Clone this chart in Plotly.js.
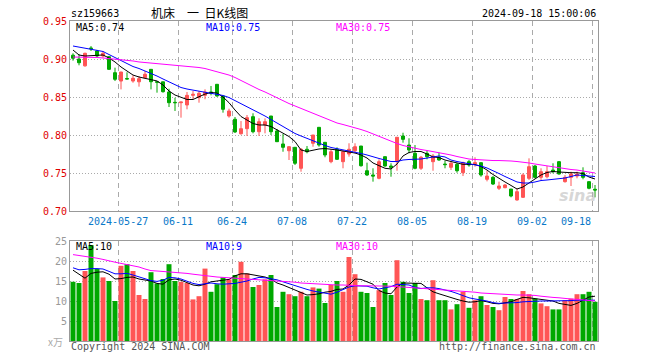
<!DOCTYPE html>
<html>
<head>
<meta charset="utf-8">
<script src="https://cdn.plot.ly/plotly-3.0.1.min.js"></script>
<style>html,body{margin:0;padding:0;background:#fff;}#chart{width:660px;height:360px;}</style>
</head>
<body>
<div id="chart"></div>
<script>
const dates = ['2024-05-15','2024-05-16','2024-05-17','2024-05-20','2024-05-21','2024-05-22','2024-05-23','2024-05-24','2024-05-27','2024-05-28',
'2024-05-29','2024-05-30','2024-05-31','2024-06-03','2024-06-04','2024-06-05','2024-06-06','2024-06-07','2024-06-11','2024-06-12',
'2024-06-13','2024-06-14','2024-06-17','2024-06-18','2024-06-19','2024-06-20','2024-06-21','2024-06-24','2024-06-25','2024-06-26',
'2024-06-27','2024-06-28','2024-07-01','2024-07-02','2024-07-03','2024-07-04','2024-07-05','2024-07-08','2024-07-09','2024-07-10',
'2024-07-11','2024-07-12','2024-07-15','2024-07-16','2024-07-17','2024-07-18','2024-07-19','2024-07-22','2024-07-23','2024-07-24',
'2024-07-25','2024-07-26','2024-07-29','2024-07-30','2024-07-31','2024-08-01','2024-08-02','2024-08-05','2024-08-06','2024-08-07',
'2024-08-08','2024-08-09','2024-08-12','2024-08-13','2024-08-14','2024-08-15','2024-08-16','2024-08-19','2024-08-20','2024-08-21',
'2024-08-22','2024-08-23','2024-08-26','2024-08-27','2024-08-28','2024-08-29','2024-08-30','2024-09-02','2024-09-03','2024-09-04',
'2024-09-05','2024-09-06','2024-09-09','2024-09-10','2024-09-11','2024-09-12','2024-09-13','2024-09-18'];

const openP = [0.905,0.900,0.891,0.9145,0.9105,0.904,0.903,0.882,0.871,0.8743,
0.871,0.870,0.8754,0.8864,0.870,0.870,0.8566,0.843,0.8425,0.8395,
0.8522,0.8491,0.8522,0.8566,0.8667,0.8513,0.825,0.8207,0.8017,0.8083,
0.8241,0.8043,0.8132,0.825,0.8053,0.7882,0.7793,0.7838,0.7562,0.7812,
0.7891,0.8101,0.7904,0.7649,0.7812,0.7649,0.775,0.7793,0.7855,0.753,
0.7474,0.743,0.7715,0.7592,0.7649,0.7987,0.7868,0.7759,0.7562,0.7759,
0.7649,0.7707,0.7618,0.7575,0.7614,0.7504,0.7649,0.7618,0.7636,0.7417,
0.7443,0.7299,0.7307,0.7289,0.7145,0.718,0.743,0.7592,0.7443,0.7451,
0.7539,0.7649,0.7386,0.7443,0.746,0.7504,0.7386,0.7286];

const highP = [0.9075,0.9062,0.9083,0.917,0.912,0.9105,0.904,0.8886,0.883,0.8825,
0.8786,0.8776,0.8842,0.8864,0.8701,0.8701,0.8609,0.849,0.8434,0.8566,
0.8579,0.8579,0.8601,0.8645,0.8671,0.8513,0.8346,0.8237,0.8184,0.8263,
0.8286,0.822,0.8219,0.825,0.8079,0.8013,0.7855,0.7838,0.7829,0.7855,
0.80,0.8101,0.7904,0.7812,0.7838,0.7803,0.7891,0.7891,0.7855,0.7636,
0.7562,0.768,0.7715,0.7628,0.7974,0.803,0.7957,0.7868,0.7724,0.7793,
0.775,0.7767,0.7662,0.7649,0.7632,0.7649,0.7671,0.7707,0.7636,0.753,
0.746,0.7386,0.7355,0.7289,0.7299,0.7496,0.7693,0.7605,0.7562,0.7592,
0.7628,0.7658,0.7474,0.7517,0.7517,0.7575,0.739,0.7342];

const lowP = [0.8978,0.8917,0.8899,0.9105,0.9026,0.9017,0.8855,0.871,0.860,0.8733,
0.8688,0.8636,0.8746,0.860,0.8557,0.8557,0.8368,0.8316,0.8228,0.8338,
0.847,0.8425,0.847,0.8522,0.8504,0.8294,0.8228,0.8026,0.8004,0.7987,
0.8022,0.7987,0.8022,0.80,0.7908,0.778,0.7671,0.7605,0.7517,0.7759,
0.7846,0.7846,0.7707,0.7628,0.7671,0.7562,0.7715,0.7759,0.7583,0.746,
0.7386,0.7417,0.7583,0.7451,0.753,0.7899,0.7759,0.7549,0.754,0.768,
0.753,0.7662,0.7562,0.754,0.7504,0.746,0.7583,0.7583,0.7451,0.739,
0.7342,0.7276,0.7299,0.718,0.7136,0.7171,0.7408,0.743,0.7408,0.743,
0.7496,0.7478,0.7373,0.7329,0.743,0.7417,0.7286,0.718];

const closeP = [0.901,0.8951,0.9075,0.9135,0.904,0.9075,0.8864,0.8733,0.8829,0.8737,
0.8746,0.8741,0.8799,0.8701,0.8695,0.857,0.8425,0.8425,0.8434,0.8522,
0.8535,0.8549,0.8566,0.8549,0.8513,0.8338,0.8316,0.804,0.8083,0.8228,
0.8043,0.8175,0.8175,0.8043,0.7912,0.7838,0.7846,0.7628,0.7812,0.778,
0.80,0.7868,0.7737,0.778,0.768,0.778,0.7812,0.7846,0.7596,0.7474,
0.746,0.7649,0.7592,0.7575,0.797,0.7943,0.7803,0.7562,0.7707,0.7715,
0.7724,0.7671,0.761,0.7628,0.753,0.7636,0.7605,0.7636,0.7474,0.746,
0.7355,0.7329,0.7342,0.7197,0.7254,0.7474,0.7583,0.7443,0.7517,0.7517,
0.7517,0.7487,0.7443,0.7487,0.7487,0.7443,0.7299,0.7276];

const ma5 = [0.9118,0.9053,0.9039,0.9046,0.9053,0.9053,0.9013,0.8961,0.8895,0.8842,
0.8789,0.8763,0.8743,0.873,0.8711,0.8658,0.8579,0.8526,0.8493,0.8467,
0.8467,0.85,0.8539,0.8559,0.8553,0.85,0.8425,0.8329,0.8243,0.8197,
0.8151,0.8132,0.8132,0.8112,0.8066,0.8026,0.798,0.7914,0.7803,0.7783,
0.7803,0.7816,0.7822,0.7816,0.7803,0.7789,0.7776,0.7763,0.7737,0.7697,
0.7632,0.7599,0.7562,0.7553,0.7618,0.7724,0.777,0.7783,0.7783,0.775,
0.7711,0.7704,0.7671,0.7651,0.7632,0.7614,0.7614,0.7612,0.7586,0.7539,
0.748,0.7428,0.7382,0.7336,0.7289,0.7316,0.7368,0.7421,0.7474,0.7507,
0.752,0.7513,0.7504,0.7504,0.7504,0.7493,0.7447,0.7421];

const ma10 = [0.9171,0.9158,0.9145,0.9132,0.9118,0.9099,0.9059,0.902,0.898,0.8934,
0.8901,0.8875,0.8842,0.8816,0.8776,0.8737,0.8697,0.8658,0.8625,0.8605,
0.8592,0.8579,0.8566,0.8553,0.8539,0.852,0.8493,0.8454,0.8414,0.8375,
0.8336,0.8296,0.825,0.8204,0.8158,0.8105,0.8059,0.802,0.7987,0.7954,
0.7928,0.7895,0.7862,0.7836,0.7822,0.7803,0.7789,0.7776,0.7757,0.7737,
0.7711,0.7691,0.7671,0.7651,0.7651,0.7671,0.7678,0.7678,0.7684,0.7697,
0.7711,0.7724,0.7711,0.7671,0.7651,0.7638,0.7625,0.7612,0.7592,0.7566,
0.7533,0.7493,0.7454,0.7414,0.7382,0.7368,0.7368,0.7382,0.7401,0.7408,
0.7414,0.7421,0.7434,0.7454,0.7474,0.7467,0.7461,0.7454];

const ma30 = [0.9026,0.9026,0.9026,0.902,0.902,0.9013,0.9007,0.9,0.8993,0.8987,
0.8974,0.8961,0.8954,0.8941,0.8934,0.8928,0.8921,0.8921,0.8914,0.8908,
0.8901,0.8888,0.8875,0.8855,0.8836,0.8816,0.8789,0.8757,0.8717,0.8671,
0.8632,0.8599,0.8566,0.8526,0.8487,0.8447,0.8414,0.8382,0.8349,0.8316,
0.8283,0.825,0.8217,0.8184,0.8158,0.8138,0.8118,0.8099,0.8072,0.8046,
0.8013,0.798,0.7947,0.7914,0.7888,0.7862,0.7842,0.7822,0.7809,0.7796,
0.7783,0.777,0.7757,0.7737,0.7717,0.7697,0.7684,0.7678,0.7671,0.7671,
0.7664,0.7664,0.7664,0.7658,0.7651,0.7645,0.7632,0.7618,0.7605,0.7592,
0.7579,0.7566,0.7553,0.7546,0.7539,0.7526,0.7513,0.75];

const volume = [14.8,14.5,17.5,24.0,18.0,15.9,15.0,10.0,18.8,19.2,
17.5,11.5,10.5,17.2,14.4,15.5,19.2,15.0,14.8,14.5,
10.4,11.2,18.1,12.3,14.2,15.9,15.4,16.5,19.8,16.9,
13.5,14.0,15.4,16.5,8.5,12.3,11.7,11.2,12.3,11.2,
13.4,13.1,9.5,14.0,15.0,12.3,21.0,16.7,12.3,12.0,
8.5,12.7,14.5,11.5,20.2,14.8,12.0,14.5,10.5,10.2,
15.2,10.2,10.2,7.9,9.2,12.3,8.3,10.2,11.2,9.0,
8.5,7.7,11.0,10.5,10.5,12.5,11.7,10.6,9.4,8.7,
7.9,7.9,10.2,10.6,11.7,11.7,12.3,9.8];

const vma5 = [17.7,16.7,15.7,16.9,17.2,17.3,16.7,15.5,15.6,15.9,
16.0,15.5,15.3,15.0,14.4,14.2,15.3,15.5,15.2,14.5,
14.0,13.8,14.2,14.8,15.0,15.1,15.4,16.3,16.8,16.8,
16.5,16.3,16.0,15.5,14.5,14.0,13.4,12.8,12.2,11.5,
11.6,11.8,12.2,12.4,12.9,13.0,14.0,15.5,15.4,14.8,
14.2,12.6,12.0,11.8,13.5,14.5,14.5,14.5,14.4,13.3,
12.3,11.8,11.3,10.8,10.4,10.0,9.7,9.8,10.1,9.8,
9.4,9.3,9.6,9.8,10.4,10.9,10.8,10.6,10.5,10.2,
10.0,9.4,9.1,8.9,9.4,10.3,11.0,11.2];

const vma10 = [18.3,17.8,17.9,18.1,18.1,18.0,17.4,16.8,16.8,16.9,
16.5,16.0,15.5,15.1,14.9,15.2,15.9,15.8,15.5,14.9,
14.4,14.1,14.3,14.5,14.3,14.2,14.3,14.4,14.7,15.0,
15.5,15.9,15.8,15.6,15.3,14.8,14.3,13.9,13.4,12.9,
12.5,12.2,11.9,11.7,12.2,12.8,13.5,13.8,13.8,13.7,
13.3,13.0,13.3,13.6,14.2,14.1,14.0,13.4,13.1,13.3,
13.3,13.1,12.8,12.4,11.9,11.3,10.8,10.5,10.3,10.0,
9.6,9.4,9.5,9.5,9.6,9.8,9.9,10.0,10.0,10.0,
10.0,10.0,10.0,10.1,10.2,10.2,10.2,10.2];

const vma30 = [21.6,21.4,21.1,20.9,20.7,20.4,20.0,19.7,19.4,19.1,
18.9,18.5,18.0,17.6,17.5,17.4,17.3,17.2,17.0,16.9,
16.7,16.5,16.3,16.2,16.0,15.9,15.8,15.7,15.6,15.5,
15.5,15.4,15.3,15.2,15.1,15.0,14.8,14.7,14.5,14.4,
14.3,14.2,14.1,14.0,14.0,14.0,13.9,13.9,13.8,13.8,
13.8,13.7,13.7,13.7,13.6,13.5,13.4,13.3,13.2,13.1,
13.0,12.9,12.8,12.7,12.6,12.5,12.3,12.2,12.0,11.9,
11.8,11.7,11.6,11.5,11.5,11.5,11.5,11.4,11.2,11.0,
10.9,10.8,10.6,10.5,10.4,10.3,10.1,10.0];

const tickDates = ['2024-05-27','2024-06-11','2024-06-24','2024-07-08','2024-07-22','2024-08-05','2024-08-19','2024-09-02','2024-09-18'];
const priceTicks = [0.70,0.75,0.80,0.85,0.90,0.95];
const volTicks = [5,10,15,20,25];

const UP = '#ff5555', DOWN = '#00a800';
const MONO = 'DejaVu Sans Mono';
const idx = dates.map((d,i)=>i);
const N = dates.length;
const gridX = tickDates.map(d => dates.indexOf(d) - 0.5);
const volColors = idx.map(i => closeP[i] >= openP[i] ? UP : DOWN);

const traces = [
  {type:'candlestick', x:idx, open:openP, high:highP, low:lowP, close:closeP, xaxis:'x', yaxis:'y',
   increasing:{line:{color:UP,width:1}, fillcolor:UP},
   decreasing:{line:{color:DOWN,width:1}, fillcolor:DOWN},
   whiskerwidth:0, hoverinfo:'skip', showlegend:false},
  {type:'scatter', mode:'lines', x:idx, y:ma5, line:{color:'#000000',width:1}, xaxis:'x', yaxis:'y', hoverinfo:'skip', showlegend:false},
  {type:'scatter', mode:'lines', x:idx, y:ma10, line:{color:'#0000ff',width:1}, xaxis:'x', yaxis:'y', hoverinfo:'skip', showlegend:false},
  {type:'scatter', mode:'lines', x:idx, y:ma30, line:{color:'#ff00ff',width:1}, xaxis:'x', yaxis:'y', hoverinfo:'skip', showlegend:false},
  {type:'bar', x:idx, y:volume, width:0.83, marker:{color:volColors, line:{width:0}}, xaxis:'x2', yaxis:'y2', hoverinfo:'skip', showlegend:false},
  {type:'scatter', mode:'lines', x:idx, y:vma5, line:{color:'#000000',width:1}, xaxis:'x2', yaxis:'y2', hoverinfo:'skip', showlegend:false},
  {type:'scatter', mode:'lines', x:idx, y:vma10, line:{color:'#0000ff',width:1}, xaxis:'x2', yaxis:'y2', hoverinfo:'skip', showlegend:false},
  {type:'scatter', mode:'lines', x:idx, y:vma30, line:{color:'#ff00ff',width:1}, xaxis:'x2', yaxis:'y2', hoverinfo:'skip', showlegend:false}
];

const xCommon = {
  range:[-0.5, N-0.5], tickmode:'array', tickvals:gridX, showticklabels:false, ticks:'',
  showgrid:true, gridcolor:'#aaaaaa', gridwidth:1, griddash:'5px,4px',
  showline:true, mirror:true, linecolor:'#999999', linewidth:1, zeroline:false,
  rangeslider:{visible:false}, fixedrange:true
};
const yCommon = {
  tickmode:'array', showgrid:true, gridcolor:'#aaaaaa', gridwidth:1, griddash:'1px,2px',
  showline:true, mirror:true, linecolor:'#999999', linewidth:1, zeroline:false, ticks:'', fixedrange:true
};

const px = v => (v - 70) / 528;
const py = v => (341 - v) / 320;

const annotations = [];
function txt(text, x, y, color, anchor, size, family) {
  annotations.push({text:text, xref:'paper', yref:'paper', x:px(x), y:py(y), xanchor:anchor, yanchor:'middle',
    showarrow:false, font:{family:family||MONO, size:size||10, color:color}, borderpad:0});
}
txt('sz159663', 70, 13, '#000', 'left');
txt('机床\u3000一\u00a0\u00a0日K线图', 199, 12, '#000', 'center', 12, 'Noto Sans CJK SC');
txt('2024-09-18 15:00:06', 597, 13, '#000', 'right');
txt('MA5:0.74', 75, 27, '#000', 'left');
txt('MA10:0.75', 205, 27, '#0000ff', 'left');
txt('MA30:0.75', 335, 27, '#ff00ff', 'left');
txt('MA5:10', 75, 246, '#000', 'left');
txt('MA10:9', 205, 246, '#0000ff', 'left');
txt('MA30:10', 335, 246, '#ff00ff', 'left');
txt('Copyright 2024 SINA.COM', 70, 346, '#555', 'left');
txt('http://finance.sina.com.cn', 597, 346, '#555', 'right');
txt('x万', 64, 341, '#aaaaaa', 'right', 10, 'Noto Sans CJK SC');
annotations.push({text:'<i><b>sina</b></i>', xref:'paper', yref:'paper', x:px(598), y:py(195), xanchor:'right', yanchor:'middle',
  showarrow:false, font:{family:'DejaVu Sans', size:16, color:'rgba(180,180,180,0.55)'}});

tickDates.forEach((d, k) => {
  const last = k === tickDates.length - 1;
  annotations.push({text: k === 0 ? d : d.slice(5), xref:'x', yref:'paper', x: dates.indexOf(d) - 0.5, y: py(221),
    xanchor: last ? 'right' : 'center', yanchor:'middle', showarrow:false, borderpad:0,
    font:{family:MONO, size:10, color:'#0a78c8'}});
});

const layout = {
  width:660, height:360, margin:{l:70, r:62, t:21, b:19},
  paper_bgcolor:'#ffffff', plot_bgcolor:'#ffffff', showlegend:false, dragmode:false,
  xaxis: Object.assign({}, xCommon, {domain:[0,1], anchor:'y'}),
  xaxis2: Object.assign({}, xCommon, {domain:[0,1], anchor:'y2', matches:'x'}),
  yaxis: Object.assign({}, yCommon, {domain:[0.40625,1], range:[0.70,0.95], tickvals:priceTicks,
    ticktext:priceTicks.map(v=>v.toFixed(2)), tickfont:{family:MONO, size:10, color:'#e00000'}}),
  yaxis2: Object.assign({}, yCommon, {domain:[0,0.3125], range:[0,25], tickvals:volTicks,
    ticktext:volTicks.map(String), tickfont:{family:MONO, size:10, color:'#999999'}}),
  annotations: annotations
};

Plotly.newPlot('chart', traces, layout, {staticPlot:true, displayModeBar:false});
</script>
</body>
</html>
